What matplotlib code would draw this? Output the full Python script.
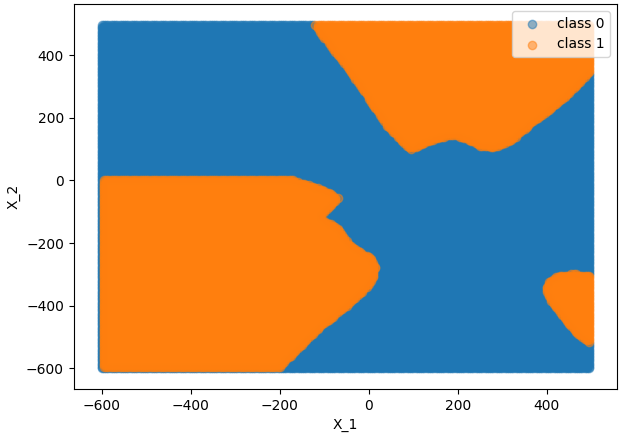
import numpy as np
import matplotlib
matplotlib.use("Agg")
import matplotlib.pyplot as plt
from matplotlib.path import Path

# grid of evaluated points
grid_x = np.arange(-600, 500, 5)
grid_y = np.arange(-600, 500, 5)

# class 1 region outlines (x_1, x_2)
top_region = [(-125, 500), (-40, 345), (40, 175), (93, 96),
              (124, 117), (161, 138), (198, 144), (228, 125), (250, 110), (280, 104),
              (317, 124), (362, 178), (436, 258), (494, 342), (500, 350), (500, 500)]
left_region = [(-600, 5), (-540, 1), (-168, 0), (-110, -25), (-68, -55),
               (-110, -117), (-68, -155), (-46, -203), (-14, -233), (3, -244),
               (16, -277), (12, -309), (-8, -346), (-30, -377), (-110, -470),
               (-203, -600), (-600, -600)]
right_blob = [(397, -345), (406, -318), (424, -306), (458, -299), (500, -304),
              (500, -520), (468, -493), (440, -443), (408, -383)]

gx, gy = np.meshgrid(grid_x, grid_y)
pts = np.column_stack([gx.ravel(), gy.ravel()])
label = np.zeros(len(pts), dtype=int)
for poly in (top_region, left_region, right_blob):
    label[Path(poly).contains_points(pts, radius=1e-9)] = 1

fig, ax = plt.subplots(figsize=(6.23, 4.36), dpi=100)
fig.subplots_adjust(left=0.1183, right=0.9899, bottom=0.1078, top=0.9908)

for c in [0, 1]:
    sel = label == c
    ax.scatter(pts[sel, 0], pts[sel, 1], alpha=0.5, label="class %d" % c)

ax.set_xlim(-663, 557)
ax.set_ylim(-666, 563)
ax.set_xlabel("X_1")
ax.set_ylabel("X_2")
ax.legend(loc="upper right")
fig.savefig("out.png")
